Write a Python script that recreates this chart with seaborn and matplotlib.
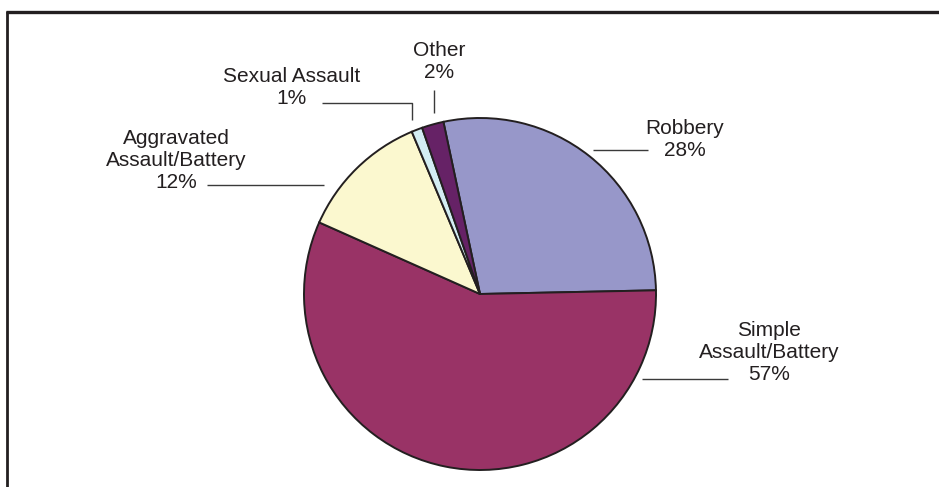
import matplotlib
matplotlib.use("Agg")
import matplotlib.pyplot as plt
import seaborn as sns

# Data
categories = ["Robbery", "Simple\nAssault/Battery", "Aggravated\nAssault/Battery", "Sexual Assault", "Other"]
values = [28, 57, 12, 1, 2]
colors = ["#9797C9", "#993366", "#FBF8CF", "#D3EDF3", "#662266"]

sns.set_theme(style="white")
plt.rcParams['font.family'] = ['Liberation Sans', 'DejaVu Sans']

W, H = 939, 487
fig = plt.figure(figsize=(W / 100, H / 100), dpi=100)
ax = fig.add_axes([0, 0, 1, 1])

def fy(y):
    return H - y

cx, cy, r = 480, 294, 176
ax.pie(values, startangle=102, counterclock=False, colors=sns.color_palette(colors),
       center=(cx, fy(cy)), radius=r,
       wedgeprops=dict(edgecolor="#231F20", linewidth=1.4))
ax.set_xlim(0, W)
ax.set_ylim(0, H)
ax.set_aspect("equal")
ax.axis("off")

txt_color = "#231F20"
line_color = "#3a3a3a"

# label layout: (x, y) centre of label block in pixels, leader polyline
layout = [
    ((685, 139), [(593, 150), (648, 150)]),
    ((769, 353), [(642, 379), (728, 379)]),
    ((176, 160), [(207, 185), (324, 185)]),
    ((292, 87), [(322, 103), (412, 103), (412, 120)]),
    ((439, 61), [(434, 90), (434, 113)]),
]
names = ["Robbery", "Simple\nAssault/Battery", "Aggravated\nAssault/Battery", "Sexual Assault", "Other"]
for name, v, ((tx, ty), pts) in zip(names, values, layout):
    ax.text(tx, fy(ty), f"{name}\n{v}%", ha="center", va="center", multialignment="center",
            fontsize=15, color=txt_color, linespacing=1.2)
    ax.plot([p[0] for p in pts], [fy(p[1]) for p in pts], color=line_color, lw=1.0,
            solid_capstyle="butt")

# frame (top and left)
ax.plot([6, W], [fy(11.5), fy(11.5)], color="#231F20", lw=2.4, solid_capstyle="butt", clip_on=False)
ax.plot([7, 7], [fy(10.5), 0], color="#231F20", lw=2.0, solid_capstyle="butt", clip_on=False)

fig.savefig("out.png", dpi=100)
